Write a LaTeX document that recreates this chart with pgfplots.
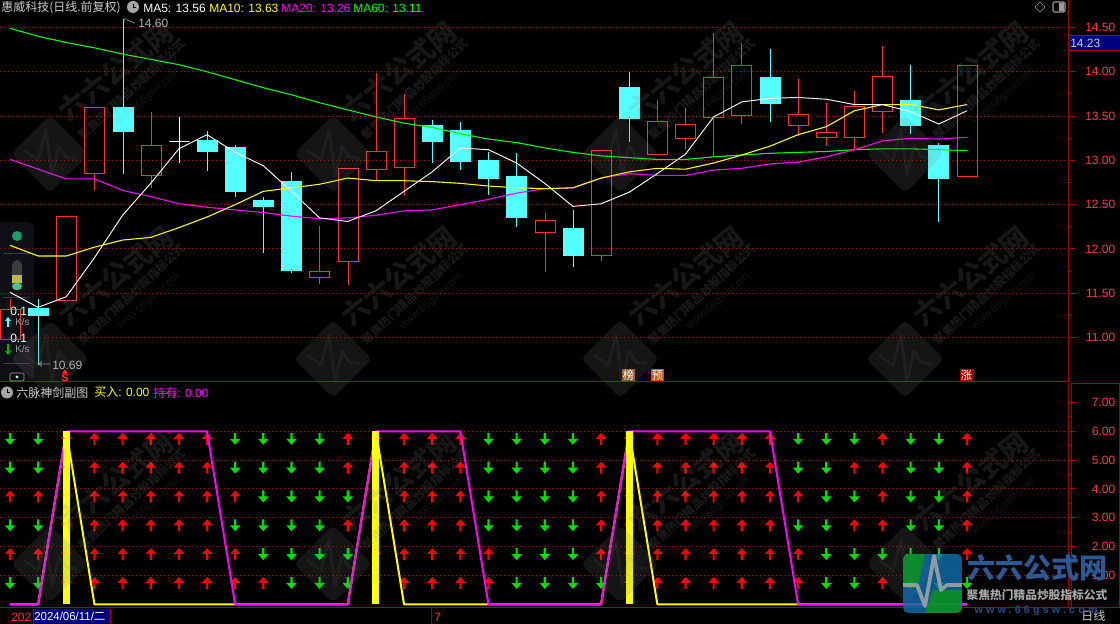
\documentclass[border=0pt]{standalone}
\usepackage{fontspec}
\usepackage{pgfplots}
\pgfplotsset{compat=1.18}
\usepgfplotslibrary{statistics}
\setmainfont{Liberation Sans}
\newfontfamily\cjk{Noto Sans CJK SC}
\newfontfamily\urlfont[LetterSpace=30]{Liberation Sans}

\definecolor{frame}{RGB}{170,0,0}
\definecolor{gridred}{RGB}{150,15,15}
\definecolor{upred}{RGB}{255,50,50}
\definecolor{dncyan}{RGB}{84,255,255}
\definecolor{ticklab}{RGB}{255,60,60}
\definecolor{labgray}{RGB}{205,205,205}
\definecolor{navy}{RGB}{0,0,128}
\definecolor{dngreen}{RGB}{0,225,0}
\definecolor{wmgray}{RGB}{128,128,128}
\definecolor{panelbg}{RGB}{14,16,22}
\definecolor{paneldiv}{RGB}{60,60,60}
\definecolor{pilltop}{RGB}{60,60,60}
\definecolor{pillmid}{RGB}{185,190,50}
\definecolor{pilllow}{RGB}{80,190,150}
\definecolor{ballgreen}{RGB}{25,160,110}
\definecolor{mawhite}{RGB}{255,255,255}
\definecolor{mayellow}{RGB}{255,255,0}
\definecolor{mamag}{RGB}{255,0,255}
\definecolor{magreen}{RGB}{0,255,0}
\definecolor{arrred}{RGB}{255,0,0}
\definecolor{logoblue}{RGB}{16,112,176}
\definecolor{logogreen}{RGB}{10,150,20}
\definecolor{siteblue}{RGB}{45,88,150}
\definecolor{urlblue}{RGB}{40,75,140}

\newcommand{\lab}{\fontsize{9}{10}\selectfont}

% arrows of the lower panel, 12 px tall
\pgfdeclareplotmark{uparr}{%
  \pgfpathmoveto{\pgfqpoint{0pt}{4.5pt}}\pgfpathlineto{\pgfqpoint{3.9pt}{0pt}}%
  \pgfpathlineto{\pgfqpoint{0.8pt}{0pt}}\pgfpathlineto{\pgfqpoint{0.8pt}{-4.5pt}}%
  \pgfpathlineto{\pgfqpoint{-0.8pt}{-4.5pt}}\pgfpathlineto{\pgfqpoint{-0.8pt}{0pt}}%
  \pgfpathlineto{\pgfqpoint{-3.9pt}{0pt}}\pgfpathclose\pgfusepathqfill}
\pgfdeclareplotmark{dnarr}{%
  \pgfpathmoveto{\pgfqpoint{0pt}{-4.5pt}}\pgfpathlineto{\pgfqpoint{3.9pt}{0pt}}%
  \pgfpathlineto{\pgfqpoint{0.8pt}{0pt}}\pgfpathlineto{\pgfqpoint{0.8pt}{4.5pt}}%
  \pgfpathlineto{\pgfqpoint{-0.8pt}{4.5pt}}\pgfpathlineto{\pgfqpoint{-0.8pt}{0pt}}%
  \pgfpathlineto{\pgfqpoint{-3.9pt}{0pt}}\pgfpathclose\pgfusepathqfill}

\pgfplotsset{
  upk/.style={draw=upred,fill=none},
  dnk/.style={draw=dncyan,fill=dncyan},
  dojik/.style={draw=white,fill=none},
  panel/.style={
    scale only axis,width=801pt,xmin=-0.355,xmax=37.59,
    axis x line=bottom,axis y line=right,axis line style={-,frame,line width=0.75pt},
    xtick=\empty,tick align=outside,clip mode=individual,
    tick style={frame,line width=0.75pt},
    major tick length=5pt,minor tick length=2pt,minor y tick num=1,
    major grid style={dash pattern=on 0.75pt off 2.25pt,gridred,line width=0.75pt},
    yticklabel style={anchor=east,xshift=34pt,text=ticklab,font=\lab},
    /pgf/number format/.cd,assume math mode=true,fixed,fixed zerofill,precision=2},
}

% style, position, low, body bottom, body top, high
% positions are a hair off the integers so the 1 px strokes fall on whole pixels
\newcommand{\candle}[6]{\addplot[#1,line width=1pt,boxplot prepared={draw direction=y,draw position=#2,
  box extend=0.7106,whisker extend=0,every median/.style={draw=none},
  lower whisker=#3,lower quartile=#4,median=#4,upper quartile=#5,upper whisker=#6}] coordinates {};}

\newcommand{\clockicon}[2]{\fill[gray!70] (#1,#2) circle (6);\draw[black,line width=0.5pt] (#1,#2-3)--(#1,#2)--(#1+3,#2);}

\newcommand{\wm}[2]{\begin{scope}[shift={(#1,#2)}]
  \fill[wmgray,opacity=0.17,rounded corners=4pt] (-39,0)--(0,-39)--(39,0)--(0,39)--cycle;
  \draw[wmgray,opacity=0.1,line width=2.2pt,line join=round] (-26,-4)--(-12,6)--(-4,-24)--(2,22)--(9,-8)--(16,3)--(27,5);
  \node[anchor=center,rotate=39,text=wmgray,text opacity=0.18,font=\fontsize{20.7}{21}\cjk\bfseries] at (66,-83) {六六公式网};
  \node[anchor=center,rotate=43,text=wmgray,text opacity=0.2,font=\fontsize{8.8}{9}\cjk\bfseries] at (82,-65) {聚焦热门精品炒股指标公式};
  \node[anchor=center,rotate=41,text=wmgray,text opacity=0.16,font=\fontsize{8}{9}\selectfont] at (98,-57) {www.66gsw.com};
\end{scope}}

\begin{document}
\begin{tikzpicture}
\useasboundingbox (0,0) rectangle (840pt,468pt);
\fill[black] (0,0) rectangle (840pt,468pt);

% floating panel on the left, under the chart
\begin{scope}[yshift=468pt,x=0.75pt,y=-0.75pt]
  \fill[rounded corners=5pt,panelbg] (-10,222) rectangle (34,382);
  \foreach \yy in {253,297,363}{\draw[paneldiv,line width=0.4pt] (3,\yy)--(30,\yy);}
\end{scope}

% upper panel
\begin{axis}[panel,at={(0pt,181.5pt)},anchor=south west,height=286.5pt,
  ymin=10.4973,ymax=14.8105,ytick={11,11.5,...,14.5},grid=major]
\candle{upk}{0.018}{10.977}{10.977}{11.316}{11.44}
\candle{dnk}{1.013}{10.69}{11.25}{11.32}{11.43}
\candle{upk}{2.008}{11.418}{11.418}{12.366}{12.366}
\candle{upk}{3.003}{12.66}{12.852}{13.597}{13.597}
\candle{dnk}{4.033}{12.85}{13.33}{13.60}{14.60}
\candle{upk}{5.028}{12.69}{12.829}{13.168}{13.55}
\candle{dojik}{6.022}{12.97}{13.213}{13.213}{13.49}
\candle{dnk}{7.017}{12.88}{13.10}{13.22}{13.33}
\candle{dnk}{8.012}{12.59}{12.65}{13.14}{13.17}
\candle{dnk}{9.007}{11.95}{12.48}{12.55}{12.59}
\candle{dnk}{10.002}{11.73}{11.76}{12.76}{12.87}
\candle{upk}{10.996}{11.60}{11.677}{11.745}{12.26}
\candle{upk}{12.027}{11.59}{11.858}{12.908}{12.908}
\candle{upk}{13.022}{12.77}{12.897}{13.100}{13.99}
\candle{upk}{14.016}{12.60}{12.919}{13.473}{13.75}
\candle{dnk}{15.011}{12.97}{13.21}{13.39}{13.46}
\candle{dnk}{16.006}{12.89}{12.99}{13.34}{13.43}
\candle{dnk}{17.001}{12.61}{12.80}{13.00}{13.09}
\candle{dnk}{17.996}{12.25}{12.36}{12.81}{13.08}
\candle{upk}{19.026}{11.74}{12.185}{12.321}{12.41}
\candle{dnk}{20.021}{11.80}{11.93}{12.23}{12.44}
\candle{upk}{21.016}{11.86}{11.926}{13.111}{13.111}
\candle{dnk}{22.010}{13.21}{13.47}{13.82}{14.00}
\candle{upk}{23.005}{13.066}{13.066}{13.439}{13.68}
\candle{upk}{24.000}{13.13}{13.247}{13.405}{13.59}
\candle{upk}{24.995}{13.05}{13.484}{13.936}{14.44}
\candle{upk}{25.990}{13.41}{13.507}{14.071}{14.33}
\candle{dnk}{27.020}{13.43}{13.64}{13.93}{14.26}
\candle{upk}{28.015}{13.27}{13.394}{13.518}{13.92}
\candle{upk}{29.010}{13.16}{13.258}{13.315}{13.65}
\candle{upk}{30.005}{13.12}{13.258}{13.608}{13.78}
\candle{upk}{30.999}{13.31}{13.552}{13.947}{14.29}
\candle{dnk}{31.994}{13.30}{13.40}{13.67}{14.08}
\candle{dnk}{32.989}{12.30}{12.80}{13.17}{13.20}
\candle{upk}{34.019}{12.818}{12.818}{14.071}{14.071}

% MA60
\addplot[magreen,line width=0.8pt,sharp plot] coordinates {(0,14.49)(1,14.40)(2,14.33)(3,14.27)(4,14.20)(5,14.14)(6,14.08)(7,14.00)(8,13.91)(9,13.82)(10,13.74)(11,13.65)(12,13.57)(13,13.49)(14,13.42)(15,13.37)(16,13.30)(17,13.24)(18,13.20)(19,13.14)(20,13.09)(21,13.05)(22,13.03)(23,13.01)(24,13.01)(25,13.04)(26,13.06)(27,13.08)(28,13.09)(29,13.10)(30,13.12)(31,13.13)(32,13.13)(33,13.12)(34,13.11)};
% MA20
\addplot[mamag,line width=0.8pt,sharp plot] coordinates {(0,13.01)(1,12.90)(2,12.79)(3,12.79)(4,12.66)(5,12.59)(6,12.51)(7,12.47)(8,12.44)(9,12.41)(10,12.37)(11,12.34)(12,12.35)(13,12.38)(14,12.43)(15,12.44)(16,12.50)(17,12.56)(18,12.63)(19,12.68)(20,12.69)(21,12.80)(22,12.85)(23,12.83)(24,12.83)(25,12.89)(26,12.91)(27,12.96)(28,12.98)(29,13.04)(30,13.12)(31,13.22)(32,13.25)(33,13.24)(34,13.26)};
% MA10
\addplot[mayellow,line width=0.8pt,sharp plot] coordinates {(0,12.04)(1,11.92)(2,11.92)(3,12.02)(4,12.10)(5,12.13)(6,12.24)(7,12.36)(8,12.50)(9,12.65)(10,12.69)(11,12.73)(12,12.80)(13,12.77)(14,12.77)(15,12.76)(16,12.74)(17,12.71)(18,12.69)(19,12.68)(20,12.69)(21,12.80)(22,12.87)(23,12.91)(24,12.90)(25,12.97)(26,13.06)(27,13.16)(28,13.29)(29,13.38)(30,13.56)(31,13.63)(32,13.63)(33,13.57)(34,13.63)};
% MA5
\addplot[mawhite,line width=0.7pt,sharp plot] coordinates {(0,11.51)(1,11.34)(2,11.46)(3,11.90)(4,12.38)(5,12.74)(6,13.13)(7,13.29)(8,13.09)(9,12.94)(10,12.65)(11,12.35)(12,12.31)(13,12.43)(14,12.65)(15,12.87)(16,13.14)(17,13.12)(18,12.97)(19,12.74)(20,12.48)(21,12.51)(22,12.64)(23,12.85)(24,13.07)(25,13.49)(26,13.66)(27,13.70)(28,13.71)(29,13.69)(30,13.63)(31,13.63)(32,13.55)(33,13.41)(34,13.56)};
\end{axis}

% lower panel
\begin{axis}[panel,at={(0pt,12pt)},anchor=south west,height=168.75pt,
  ymin=-0.128,ymax=7.676,ytick={1,2,...,7},
  extra y ticks={1,2,3,4,5,6},extra y tick labels={},
  extra y tick style={grid=major,major tick length=0pt,minor tick length=0pt}]
\addplot[only marks,mark=uparr,color=arrred] coordinates {
  (2,5.74)(3,5.74)(4,5.74)(5,5.74)(6,5.74)(7,5.74)(12,5.74)(13,5.74)(14,5.74)(15,5.74)(16,5.74)(21,5.74)(22,5.74)(23,5.74)(24,5.74)(25,5.74)(26,5.74)(27,5.74)(31,5.74)(34,5.74)
  (2,4.74)(3,4.74)(4,4.74)(5,4.74)(6,4.74)(7,4.74)(12,4.74)(13,4.74)(14,4.74)(15,4.74)(16,4.74)(21,4.74)(22,4.74)(23,4.74)(24,4.74)(25,4.74)(26,4.74)(27,4.74)(30,4.74)(31,4.74)(34,4.74)
  (0,3.74)(1,3.74)(2,3.74)(3,3.74)(4,3.74)(5,3.74)(6,3.74)(7,3.74)(8,3.74)(13,3.74)(14,3.74)(15,3.74)(16,3.74)(21,3.74)(22,3.74)(23,3.74)(24,3.74)(25,3.74)(26,3.74)(27,3.74)(28,3.74)(31,3.74)(34,3.74)
  (2,2.74)(3,2.74)(4,2.74)(5,2.74)(6,2.74)(7,2.74)(12,2.74)(13,2.74)(14,2.74)(15,2.74)(16,2.74)(21,2.74)(22,2.74)(23,2.74)(24,2.74)(25,2.74)(26,2.74)(27,2.74)(30,2.74)(31,2.74)(34,2.74)
  (0,1.74)(1,1.74)(2,1.74)(3,1.74)(4,1.74)(5,1.74)(6,1.74)(7,1.74)(8,1.74)(13,1.74)(14,1.74)(15,1.74)(16,1.74)(17,1.74)(21,1.74)(22,1.74)(23,1.74)(24,1.74)(25,1.74)(26,1.74)(27,1.74)(28,1.74)(34,1.74)
  (2,0.74)(3,0.74)(4,0.74)(5,0.74)(6,0.74)(7,0.74)(8,0.74)(9,0.74)(13,0.74)(14,0.74)(15,0.74)(16,0.74)(17,0.74)(22,0.74)(23,0.74)(24,0.74)(25,0.74)(26,0.74)(27,0.74)(28,0.74)(31,0.74)
};
\addplot[only marks,mark=dnarr,color=dngreen] coordinates {
  (0,5.74)(1,5.74)(8,5.74)(9,5.74)(10,5.74)(11,5.74)(17,5.74)(18,5.74)(19,5.74)(20,5.74)(28,5.74)(29,5.74)(30,5.74)(32,5.74)(33,5.74)
  (0,4.74)(1,4.74)(8,4.74)(9,4.74)(10,4.74)(11,4.74)(17,4.74)(18,4.74)(19,4.74)(20,4.74)(28,4.74)(29,4.74)(32,4.74)(33,4.74)
  (9,3.74)(10,3.74)(11,3.74)(12,3.74)(17,3.74)(18,3.74)(19,3.74)(20,3.74)(29,3.74)(30,3.74)(32,3.74)(33,3.74)
  (0,2.74)(1,2.74)(8,2.74)(9,2.74)(10,2.74)(11,2.74)(17,2.74)(18,2.74)(19,2.74)(20,2.74)(28,2.74)(29,2.74)(32,2.74)(33,2.74)
  (9,1.74)(10,1.74)(11,1.74)(12,1.74)(18,1.74)(19,1.74)(20,1.74)(29,1.74)(30,1.74)(31,1.74)(32,1.74)(33,1.74)
  (0,0.74)(1,0.74)(10,0.74)(11,0.74)(12,0.74)(18,0.74)(19,0.74)(20,0.74)(21,0.74)(29,0.74)(30,0.74)(32,0.74)(33,0.74)(34,0.74)
};
% buy line
\addplot[mayellow,line width=1.5pt,line join=bevel,sharp plot] coordinates {(0,0)(1,0)(2,6)(3,0)(4,0)(5,0)(6,0)(7,0)(8,0)(9,0)(10,0)(11,0)(12,0)(13,6)(14,0)(15,0)(16,0)(17,0)(18,0)(19,0)(20,0)(21,0)(22,6)(23,0)(24,0)(25,0)(26,0)(27,0)(28,0)(29,0)(30,0)(31,0)(32,0)(33,0)(34,0)};
% hold line
\addplot[mamag,line width=1.5pt,line join=bevel,sharp plot] coordinates {(0,0)(1,0)(2,6)(3,6)(4,6)(5,6)(6,6)(7,6)(8,0)(9,0)(10,0)(11,0)(12,0)(13,6)(14,6)(15,6)(16,6)(17,0)(18,0)(19,0)(20,0)(21,0)(22,6)(23,6)(24,6)(25,6)(26,6)(27,6)(28,0)(29,0)(30,0)(31,0)(32,0)(33,0)(34,0)};
% buy bars
\addplot[ycomb,mayellow,line width=5.4pt] coordinates {(2,6)(13,6)(22,6)};
\end{axis}

% everything else is placed in reference pixels, y downwards
\begin{scope}[yshift=468pt,x=0.75pt,y=-0.75pt,every node/.style={inner sep=0pt,anchor=west,font=\lab}]
  % frames
  \draw[frame,line width=0.75pt] (1071,384) rectangle (1119,608);
  \draw[frame,line width=0.75pt] (1068,608)--(1071,608);

  % watermark over the chart
  \foreach \cy in {154,359,564}{\foreach \cx in {50,333,620,905}{\wm{\cx}{\cy}}}

  % header
  \node[text=labgray] at (1,8) {\cjk 惠威科技(日线.前复权)};
  \clockicon{133}{7}
  \node[text=white] at (143,8) {MA5: 13.56};
  \node[text=mayellow] at (209,8) {MA10: 13.63};
  \node[text=mamag] at (281,8) {MA20: 13.26};
  \node[text=magreen] at (353,8) {MA60: 13.11};
  \draw[gray!80,line width=0.5pt] (1040,2)--(1045,7)--(1040,12)--(1035,7)--cycle;
  \draw[gray!80,line width=0.8pt,rounded corners=1pt] (1053,2) rectangle (1065,12);
  \fill[gray!80] (1059,3) rectangle (1064,11);

  % last price box
  \fill[navy] (1069,35.5) rectangle (1120,51);
  \draw[frame,line width=0.75pt] (1069,35.5)--(1120,35.5) (1069,51)--(1120,51);
  \node[text=labgray] at (1070,43.5) {14.23};

  % high and low tags
  \draw[gray!80,line width=0.5pt] (124,23)--(124,19)--(127,19) (127,20)--(135,23);
  \node[text=labgray!85!black] at (138,23.5) {14.60};
  \draw[gray!80,line width=0.5pt] (50,364)--(39,364) (42,361.5)--(39,364)--(42,366.5);
  \node[text=labgray!85!black] at (52,365.5) {10.69};

  % event markers
  \fill[upred] (65,369.5)--(68,373.5)--(62,373.5)--cycle;
  \node[anchor=center,text=upred,font=\fontsize{8}{9}\selectfont\bfseries] at (65,378) {S};
  \fill[brown!75!black] (622,369) rectangle (635,381.5);
  \node[anchor=center,text=white,font=\fontsize{8.5}{9}\cjk] at (628.5,375.5) {榜};
  \fill[orange!70!red!85!black] (651,369) rectangle (664,381.5);
  \node[anchor=center,text=white,font=\fontsize{8.5}{9}\cjk] at (657.5,375.5) {预};
  \fill[red!65!black] (960,369) rectangle (973,381.5);
  \node[anchor=center,text=white,font=\fontsize{8.5}{9}\cjk] at (966.5,375.5) {涨};

  % floating panel contents
  \fill[ballgreen] (17,236) circle (5);
  \fill[pilltop,rounded corners=4pt] (12,260) rectangle (22,290);
  \fill[pillmid] (12,275) rectangle (22,283);
  \fill[pilllow,rounded corners=3pt] (12,283) rectangle (22,290);
  \node[text=white] at (10,311) {0.1};
  \fill[dncyan] (8,317)--(11,321)--(9,321)--(9,327)--(7,327)--(7,321)--(5,321)--cycle;
  \node[text=gray!80,font=\fontsize{7.5}{8}\selectfont] at (15,322) {K/s};
  \node[text=white] at (10,338) {0.1};
  \fill[dngreen!80!black] (8,355)--(11,351)--(9,351)--(9,344)--(7,344)--(7,351)--(5,351)--cycle;
  \node[text=gray!80,font=\fontsize{7.5}{8}\selectfont] at (15,349) {K/s};
  \draw[gray!80,line width=0.6pt,rounded corners=1pt] (10,373) rectangle (24,381);
  \fill[white] (17,377) circle (1.5);

  % lower panel title
  \clockicon{7}{392.5}
  \node[text=labgray] at (16,392.5) {\cjk 六脉神剑副图};
  \node[text=mayellow] at (94,392.5) {{\cjk 买入}: 0.00};
  \node[text=mamag] at (153,392.5) {{\cjk 持有}: 0.00};

  % date bar
  \node[text=upred] at (11,617) {202};
  \fill[navy] (33,609) rectangle (110,623.5);
  \draw[frame,line width=0.75pt] (33,609)--(33,624) (110,609)--(110,624);
  \node[text=white,font=\fontsize{8.6}{9}\selectfont] at (34,616.5) {2024/06/11/{\cjk 二}};
  \draw[frame,line width=0.75pt] (431.5,608)--(431.5,624);
  \node[text=upred] at (434,617) {7};
  \node[text=labgray] at (1081,616) {\cjk 日线};

  % site logo, bottom right
  \begin{scope}
    \clip[rounded corners=4pt] (903,554) rectangle (962,613);
    \fill[logoblue,opacity=0.8] (903,554) rectangle (962,613);
    \fill[logogreen,opacity=0.8] (903,554)--(925,554)--(917,588)--(903,588)--cycle;
    \fill[logogreen,opacity=0.8] (933,590)--(962,590)--(962,613)--(925,613)--cycle;
    \draw[gray!70,opacity=0.85,line width=2.8pt,line join=round] (903,585)--(917,585)--(925,606)--(934,556)--(941,590)--(947,585)--(962,585);
  \end{scope}
  \node[anchor=center,text=siteblue,font=\fontsize{21}{22}\cjk\bfseries] at (1037,568) {六六公式网};
  \node[anchor=center,text=gray!70,font=\fontsize{8.8}{9}\cjk\bfseries] at (1037,595) {聚焦热门精品炒股指标公式};
  \node[anchor=center,text=urlblue,font=\fontsize{8}{9}\urlfont\bfseries] at (1036,610.5) {www.66gsw.com};
\end{scope}
\end{tikzpicture}
\end{document}
